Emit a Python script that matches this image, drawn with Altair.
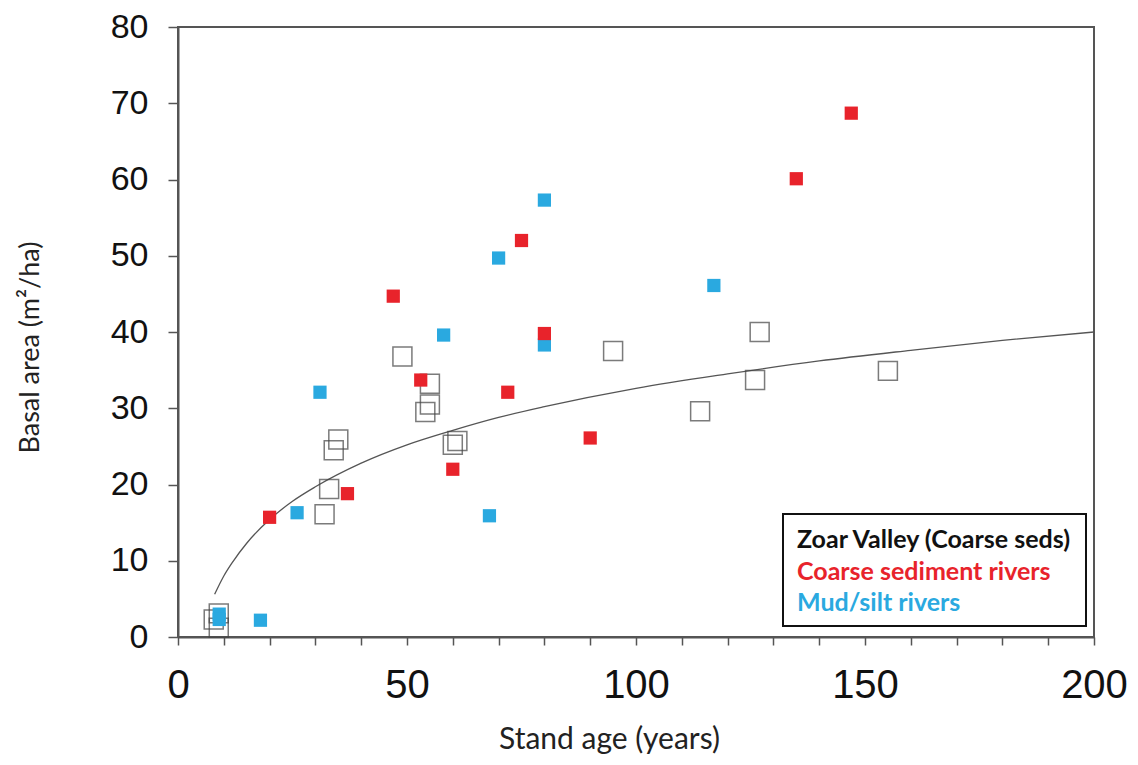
import altair as alt
import pandas as pd

# --- data ---
zoar_x = [7.8, 8.9, 8.9, 32, 33, 34, 35, 49, 54, 55, 55, 60, 61, 95, 114, 126, 127, 155]
zoar_y = [2.3, 3.1, 1.2, 16.1, 19.4, 24.5, 25.9, 36.8, 29.5, 30.5, 33.2, 25.2, 25.7, 37.5, 29.6, 33.7, 40.0, 34.9]

coarse_x = [20, 37, 47, 53, 60, 72, 75, 80, 90, 135, 147]
coarse_y = [15.7, 18.8, 44.7, 33.7, 22.0, 32.1, 52.0, 39.8, 26.1, 60.1, 68.7]

mud_x = [9, 9, 18, 26, 31, 58, 68, 70, 80, 80, 117]
mud_y = [3.0, 2.3, 2.2, 16.3, 32.1, 39.6, 15.9, 49.7, 57.3, 38.3, 46.1]

# trend curve
curve_x = [8, 10, 12, 15, 20, 25, 30, 40, 50, 60, 70, 80, 100, 120, 140, 160, 180, 200]
curve_y = [5.6, 8.0, 9.9, 12.3, 15.4, 17.8, 19.7, 22.8, 25.2, 27.1, 28.8, 30.2, 32.6, 34.5, 36.2, 37.6, 38.9, 40.0]

legend_labels = ["Zoar Valley (Coarse seds)", "Coarse sediment rivers", "Mud/silt rivers"]
legend_colors = ["#111111", "#E8232B", "#2AA9E0"]

x_ticks = list(range(0, 201, 10))
y_ticks = list(range(0, 81, 10))

TITLE_FONT = "Lato"

zoar = pd.DataFrame({"age": zoar_x, "ba": zoar_y})
coarse = pd.DataFrame({"age": coarse_x, "ba": coarse_y})
mud = pd.DataFrame({"age": mud_x, "ba": mud_y})
curve = pd.DataFrame({"age": curve_x, "ba": curve_y})

x_enc = alt.X(
    "age:Q",
    scale=alt.Scale(domain=[0, 200], nice=False),
    axis=alt.Axis(
        values=x_ticks,
        labelExpr="datum.value % 50 === 0 ? datum.label : ''",
        title="Stand age (years)",
        titleFont=TITLE_FONT,
        titleFontWeight="normal",
        titleFontSize=30,
        titleColor="#222",
        titleX=431,
        titleY=102,
        titleBaseline="middle",
        labelFont="Liberation Sans, Arial, sans-serif",
        labelFontSize=40,
        labelColor="#111",
        labelPadding=20,
        tickSize=8,
        labelFlush=False,
        labelOverlap=False,
    ),
)
y_enc = alt.Y(
    "ba:Q",
    scale=alt.Scale(domain=[0, 80], nice=False),
    axis=alt.Axis(
        values=y_ticks,
        title="Basal area (m²/ha)",
        titleFont=TITLE_FONT,
        titleFontWeight="normal",
        titleFontSize=27,
        titleColor="#222",
        titleX=-148,
        titleY=320,
        titleAngle=-90,
        titleAlign="center",
        titleBaseline="middle",
        labelFont="Liberation Sans, Arial, sans-serif",
        labelFontSize=34,
        labelColor="#111",
        labelPadding=20,
        tickSize=10,
        labelFlush=False,
    ),
)

curve_layer = alt.Chart(curve).mark_line(
    color="#555555", strokeWidth=1.3, interpolate="monotone"
).encode(x=x_enc, y=y_enc)

zoar_layer = alt.Chart(zoar).mark_square(
    filled=False, size=360, stroke="#444444", strokeWidth=1.5
).encode(x="age:Q", y="ba:Q")

mud_layer = alt.Chart(mud).mark_square(
    filled=True, size=175, color="#2AA9E0", opacity=1
).encode(x="age:Q", y="ba:Q")

coarse_layer = alt.Chart(coarse).mark_square(
    filled=True, size=175, color="#E8232B", opacity=1
).encode(x="age:Q", y="ba:Q")

box = alt.Chart(pd.DataFrame({"k": [0]})).mark_rect(
    filled=False, stroke="#111111", strokeWidth=2, fill="white", fillOpacity=1
).encode(
    x=alt.value(605), x2=alt.value(908), y=alt.value(487), y2=alt.value(599)
)

text_layers = []
for i, (lab, col) in enumerate(zip(legend_labels, legend_colors)):
    text_layers.append(
        alt.Chart(pd.DataFrame({"label": [lab]})).mark_text(
            align="left", baseline="middle", font="Lato", fontWeight="bold",
            fontSize=25, color=col
        ).encode(text="label:N", x=alt.value(619), y=alt.value(513 + i * 31.5))
    )

chart = alt.layer(
    curve_layer, zoar_layer, mud_layer, coarse_layer, box, *text_layers
).properties(
    width=916,
    height=610,
    autosize=alt.AutoSizeParams(type="none"),
    padding={"left": 170, "top": 19, "right": 36, "bottom": 120},
).configure_view(
    stroke="#555555", strokeWidth=2
).configure_axis(
    grid=False,
    domainColor="#555555",
    domainWidth=2,
    tickColor="#555555",
    tickWidth=1.5,
)

chart.save("out.html", embed_options={"renderer": "svg", "actions": False})
